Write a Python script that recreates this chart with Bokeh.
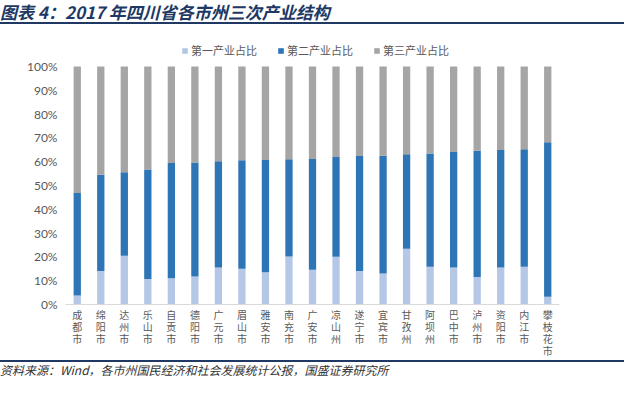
from bokeh.plotting import figure
from bokeh.models import (ColumnDataSource, Legend, LegendItem, PrintfTickFormatter,
                          Div, FactorRange, FixedTicker, CategoricalAxis,
                          CustomJSTickFormatter)
from bokeh.layouts import column
from bokeh.embed import file_html
from bokeh.resources import INLINE

cities = ["成都市", "绵阳市", "达州市", "乐山市", "自贡市", "德阳市", "广元市",
          "眉山市", "雅安市", "南充市", "广安市", "凉山州", "遂宁市", "宜宾市",
          "甘孜州", "阿坝州", "巴中市", "泸州市", "资阳市", "内江市", "攀枝花市"]
primary = [3.8, 14.1, 20.5, 10.7, 11.0, 11.8, 15.6, 15.0, 13.6, 20.2, 14.6,
           20.1, 14.1, 13.0, 23.4, 15.9, 15.6, 11.6, 15.6, 15.9, 3.3]
secondary = [43.1, 40.4, 35.1, 46.0, 48.5, 47.9, 44.6, 45.6, 47.1, 40.8, 46.5,
             41.9, 48.3, 49.5, 39.7, 47.6, 48.5, 53.0, 49.3, 49.4, 64.9]
tertiary = [53.1, 45.5, 44.4, 43.3, 40.5, 40.3, 39.8, 39.4, 39.3, 39.0, 38.9,
            38.0, 37.6, 37.5, 36.9, 36.5, 35.9, 35.4, 35.1, 34.7, 31.8]
series = ["第一产业占比", "第二产业占比", "第三产业占比"]
colors = ["#B4C7E7", "#2E75B6", "#A5A5A5"]
yticks = [0, 10, 20, 30, 40, 50, 60, 70, 80, 90, 100]

title_text = "图表 4：2017 年四川省各市州三次产业结构"
source_text = "资料来源：Wind，各市州国民经济和社会发展统计公报，国盛证券研究所"

src = ColumnDataSource(dict(city=cities, p1=primary, p2=secondary, p3=tertiary))

p = figure(x_range=FactorRange(*cities), y_range=(0, 116), width=624, height=334,
           output_backend="svg", toolbar_location=None,
           min_border_left=65, min_border_right=65, min_border_top=2,
           min_border_bottom=56)
rs = p.vbar_stack(["p1", "p2", "p3"], x="city", width=0.31, color=colors,
                  line_color=None, source=src)

items = [LegendItem(label=s, renderers=[r]) for s, r in zip(series, rs)]
legend = Legend(items=items, orientation="horizontal", location=(116, 246),
                glyph_width=7, glyph_height=7, label_text_font_size="11px",
                label_text_color="#595959", label_text_font="Noto Sans CJK SC",
                border_line_color=None, background_fill_alpha=0, spacing=20,
                label_standoff=3, padding=2, margin=0)
p.add_layout(legend, "center")

p.outline_line_color = None
p.xgrid.grid_line_color = None
p.ygrid.grid_line_color = None

p.yaxis.ticker = FixedTicker(ticks=yticks)
p.yaxis.formatter = PrintfTickFormatter(format="%d%%")
p.yaxis.axis_line_color = None
p.yaxis.major_tick_line_color = None
p.yaxis.minor_tick_line_color = None
p.yaxis.major_tick_out = 0
p.yaxis.major_label_text_font = "Lato"
p.yaxis.major_label_text_font_size = "12px"
p.yaxis.major_label_text_color = "#595959"
p.yaxis.major_label_standoff = 8


def style_xaxis(ax, row, standoff):
    ax.major_tick_line_color = None
    ax.minor_tick_line_color = None
    ax.major_tick_out = 0
    ax.major_tick_in = 0
    ax.axis_label_standoff = 0
    ax.formatter = CustomJSTickFormatter(
        args=dict(row=row),
        code="return tick.length > row ? tick.charAt(row) : '';")
    ax.major_label_text_font = "Noto Sans CJK SC"
    ax.major_label_text_font_size = "10px"
    ax.major_label_text_line_height = 1.0
    ax.major_label_text_color = "#595959"
    ax.major_label_standoff = standoff


main_x = p.xaxis[0]
main_x.axis_line_color = "#D9D9D9"
style_xaxis(main_x, 0, 2)
for row in (1, 2, 3):
    ax = CategoricalAxis()
    ax.axis_line_color = None
    style_xaxis(ax, row, -6)
    p.add_layout(ax, "below")

title_div = Div(
    text=('<div style="font-family:\'Noto Sans CJK SC\';font-weight:bold;'
          'font-style:italic;font-size:17px;color:#203864;'
          'border-bottom:2px solid #203864;width:624px;height:24px;'
          'line-height:24px;white-space:nowrap;">' + title_text + '</div>'),
    width=624, height=26, margin=0)

foot_div = Div(
    text=('<div style="font-family:\'Noto Sans CJK SC\';font-style:italic;'
          'font-size:12px;color:#333333;border-top:2px solid #203864;'
          'width:624px;height:16px;line-height:16px;white-space:nowrap;">'
          + source_text + '</div>'),
    width=624, height=18, margin=0)

layout = column(title_div, p, foot_div, spacing=0)

with open("out.html", "w") as f:
    f.write(file_html(layout, INLINE))
